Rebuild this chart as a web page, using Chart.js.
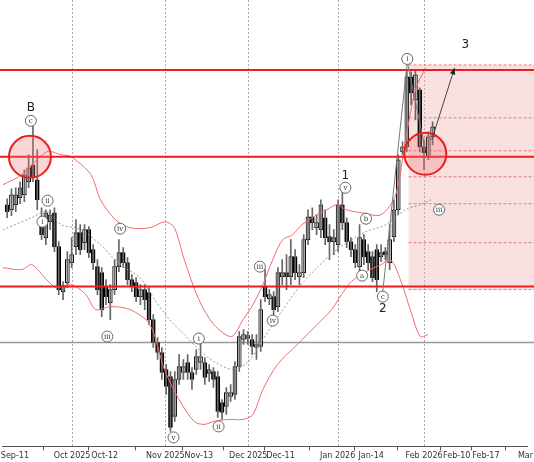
<!DOCTYPE html>
<html><head><meta charset="utf-8">
<script src="https://cdn.jsdelivr.net/npm/chart.js@4.4.1/dist/chart.umd.min.js"></script>
<style>html,body{margin:0;background:#fff}#wrap{width:534px;height:462px}</style>
</head><body><div id="wrap"><canvas id="c"></canvas></div>
<script>
// daily candles (index = trading day)
const opens  = [295,290,295,302,305,318,335,320,283,262,278,287,253,208,217,237,253,267,257,270,250,233,227,213,197,210,233,247,237,220,217,203,210,207,180,157,147,130,123,83,120,127,137,127,130,137,137,126,128,123,97,93,103,105,133,160,161,160,152,153,213,201,203,193,223,227,223,243,223,227,260,283,272,270,282,263,258,255,295,277,258,250,233,260,248,243,250,243,248,237,263,290,348,353,423,400,410,353,343,363];
const closes = [288,305,305,312,325,332,322,300,265,287,285,253,210,214,240,245,267,250,270,247,237,210,190,203,210,233,247,237,220,213,203,210,200,180,157,147,127,113,72,120,133,133,127,120,143,143,122,130,120,88,87,107,107,133,163,165,164,153,155,190,203,205,190,227,227,223,243,227,227,260,283,277,277,295,262,258,262,295,277,258,250,237,262,243,237,222,220,247,245,260,290,340,353,423,407,425,353,347,363,373];
const highs  = [301,311,312,318,330,345,382,350,292,290,290,292,258,218,248,262,280,275,275,273,255,240,232,220,215,240,260,252,242,225,222,215,215,212,185,162,152,135,128,128,145,140,145,132,150,160,142,135,132,128,100,112,115,138,168,170,168,165,165,200,230,210,208,232,240,245,260,250,235,265,290,292,285,300,290,275,270,300,310,282,262,255,275,265,255,248,255,255,252,275,300,345,358,430,428,430,412,360,368,378];
const lows   = [282,284,288,296,298,312,318,290,260,255,270,248,205,200,212,232,245,245,250,242,230,205,183,195,180,205,228,232,215,208,198,195,190,175,152,140,120,105,68,78,115,120,120,110,125,130,115,118,112,82,80,85,98,100,128,155,155,145,140,148,198,195,182,188,215,210,215,220,215,222,255,270,265,262,255,240,245,248,270,252,243,232,225,235,230,218,208,238,240,230,258,285,345,348,395,380,348,330,340,355];

// bollinger bands (day index, price)
const upperX = [-1,3.4,9.2,12.6,14.9,19.5,21.7,25.2,28.6,33.2,36.8,38.9,41.2,44.6,48.1,52.2,54.9,57.2,59.5,61.8,64.1,66.4,68.6,72.1,74.4,76.7,78.9,82.4,87,90.4,92.7,95,97.3];
const upperY = [315,325,348,345,343,325,300,280,272,272,278,272,240,200,175,163,180,195,215,240,260,265,275,285,290,295,290,287,285,305,360,410,432];
const lowerX = [-1,3.4,5.7,9.2,11.4,14.9,18.3,20.6,24,28.6,33.2,36.6,40,43.5,45.8,48.1,51.5,54.9,57.2,59.5,62.9,67.5,72.1,75.5,77.8,80.1,83.5,87,89.2,91.5,93.8,96.1,97.9];
const lowerY = [232,230,235,220,212,215,205,190,193,190,175,130,100,78,75,78,80,80,85,110,135,155,175,190,205,218,228,235,240,220,190,163,165];
const midX = [-1,5.7,9.2,12.6,17.2,21.7,26.3,30.9,34.3,37.8,41.2,44.6,48.1,52.6,56.1,59.5,62.9,67.5,72.1,76.7,80.1,83.5,88.1,92.7,96.1,98.6];
const midY = [270,282,288,275,270,255,235,222,200,180,165,150,138,130,138,160,182,210,232,250,260,268,275,290,295,300];

const tickPos = [1.8,15.1,22.7,36.8,44.6,56.1,63.6,76.9,84.7,97,104.6,111.4,120.6];
const tickLabels = ['Sep-11','Oct 2025','Oct-12','Nov 2025','Nov-13','Dec 2025','Dec-11','Jan 2026','Jan-14','Feb 2026','Feb-10','Feb-17','Mar'];
const monthTicks = [15.1,36.8,56.1,76.9,97];

const levels = [430,343,213];
const grayLevel = 157;
const zoneStart = 93.4, zoneTop = 435, zoneBottom = 210;
const zoneLines = [435,382,349,323,296,257,210];

// wave labels: index, price, text, circled?
const waveX = [5.5,5.5,9.4,8.2,26.3,23.3,38.7,44.6,49.2,58.8,61.8,78.7,78.7,83.5,82.6,87.4,87.4,93.1,106.6,100.5];
const waveY = [392,379,299,278,271,163,62,161,73,233,179,324,312,281,224,203,191,441,455,290];
const waveT = ['B','c','ii','i','iv','iii','v','i','ii','iii','iv','1','v','b','a','c','2','i','3','iii'];
const waveC = [0,1,1,1,1,1,1,1,1,1,1,0,1,1,1,1,0,1,0,1];

const ringX = [5.3,97.3], ringY = [343,346];
const zigX = [87.4,93.1,97.3], zigY = [208,438,350];
const arrowX = [98.8,104.1], arrowY = [360,432];

const idx = opens.map((_, i) => i);

const overlay = {
  id: 'overlay',
  beforeDatasetsDraw(ch) {
    const {ctx, chartArea: a, scales: {x, y}} = ch;
    const W = ch.width;
    ctx.save();
    // month grid
    ctx.strokeStyle = '#aaa'; ctx.lineWidth = 1; ctx.setLineDash([2,2]);
    monthTicks.forEach(m => { const px = Math.round(x.getPixelForValue(m)) + .5;
      ctx.beginPath(); ctx.moveTo(px, a.top); ctx.lineTo(px, a.bottom); ctx.stroke(); });
    // zone
    const zx = x.getPixelForValue(zoneStart);
    ctx.setLineDash([]);
    ctx.fillStyle = 'rgba(240,170,170,0.35)';
    ctx.fillRect(zx, y.getPixelForValue(zoneTop), W - zx, y.getPixelForValue(zoneBottom) - y.getPixelForValue(zoneTop));
    ctx.strokeStyle = 'rgba(230,80,80,0.7)'; ctx.setLineDash([3,2]);
    zoneLines.forEach(v => { const py = y.getPixelForValue(v);
      ctx.beginPath(); ctx.moveTo(zx, py); ctx.lineTo(W, py); ctx.stroke(); });
    ctx.setLineDash([]);
    // gray level
    ctx.strokeStyle = '#999'; ctx.lineWidth = 1.5;
    let py = y.getPixelForValue(grayLevel);
    ctx.beginPath(); ctx.moveTo(0, py); ctx.lineTo(W, py); ctx.stroke();
    ctx.restore();
  },
  afterDatasetsDraw(ch) {
    const {ctx, chartArea: a, scales: {x, y}} = ch;
    const W = ch.width;
    ctx.save();
    ctx.strokeStyle = '#ee1c1c'; ctx.lineWidth = 2;
    levels.forEach(v => { const py = y.getPixelForValue(v);
      ctx.beginPath(); ctx.moveTo(0, py); ctx.lineTo(W, py); ctx.stroke(); });
    ringX.forEach((rx, i) => {
      ctx.beginPath(); ctx.arc(x.getPixelForValue(rx), y.getPixelForValue(ringY[i]), 21, 0, Math.PI*2);
      ctx.fillStyle = 'rgba(240,120,120,0.3)'; ctx.fill(); ctx.stroke();
    });
    // zigzag
    ctx.strokeStyle = '#777'; ctx.lineWidth = 1;
    ctx.beginPath();
    zigX.forEach((zx, i) => { const px = x.getPixelForValue(zx), pyy = y.getPixelForValue(zigY[i]);
      i ? ctx.lineTo(px, pyy) : ctx.moveTo(px, pyy); });
    ctx.stroke();
    // arrow
    const x1 = x.getPixelForValue(arrowX[0]), y1 = y.getPixelForValue(arrowY[0]);
    const x2 = x.getPixelForValue(arrowX[1]), y2 = y.getPixelForValue(arrowY[1]);
    ctx.strokeStyle = '#444'; ctx.beginPath(); ctx.moveTo(x1, y1); ctx.lineTo(x2, y2); ctx.stroke();
    const ang = Math.atan2(y2 - y1, x2 - x1);
    ctx.fillStyle = '#222'; ctx.beginPath(); ctx.moveTo(x2, y2);
    ctx.lineTo(x2 - 7*Math.cos(ang - .4), y2 - 7*Math.sin(ang - .4));
    ctx.lineTo(x2 - 7*Math.cos(ang + .4), y2 - 7*Math.sin(ang + .4));
    ctx.fill();
    // wave labels
    ctx.textAlign = 'center'; ctx.textBaseline = 'middle';
    waveT.forEach((t, i) => {
      const px = x.getPixelForValue(waveX[i]), pyy = y.getPixelForValue(waveY[i]);
      if (waveC[i]) {
        ctx.beginPath(); ctx.arc(px, pyy, 5.5, 0, Math.PI*2);
        ctx.fillStyle = '#fff'; ctx.fill(); ctx.strokeStyle = '#666'; ctx.lineWidth = 1; ctx.stroke();
        ctx.fillStyle = '#333'; ctx.font = '7px "DejaVu Serif"'; ctx.fillText(t, px, pyy + .5);
      } else {
        ctx.fillStyle = '#222'; ctx.font = '12px "DejaVu Sans"'; ctx.fillText(t, px, pyy);
      }
    });
    ctx.restore();
  }
};

new Chart(document.getElementById('c'), {
  type: 'bar',
  data: { datasets: [
    { type:'line', data: upperX.map((v,i)=>({x:v,y:upperY[i]})), borderColor:'#f26b6b', borderWidth:1, pointRadius:0, tension:.3 },
    { type:'line', data: lowerX.map((v,i)=>({x:v,y:lowerY[i]})), borderColor:'#f26b6b', borderWidth:1, pointRadius:0, tension:.3 },
    { type:'line', data: midX.map((v,i)=>({x:v,y:midY[i]})), borderColor:'#999', borderWidth:1, borderDash:[2,2], pointRadius:0, tension:.3 },
    { data: idx.map(i => ({x:i, y:[lows[i], highs[i]]})), backgroundColor:'#666', barThickness:1, grouped:false },
    { data: idx.map(i => ({x:i, y:[opens[i], closes[i]]})),
      backgroundColor: idx.map(i => closes[i] >= opens[i] ? '#fff' : '#000'),
      borderColor:'#000', borderWidth:1, borderSkipped:false, barThickness:4, grouped:false }
  ]},
  options: {
    animation:false, responsive:true, maintainAspectRatio:false,
    layout:{padding:{left:0, right:-8, top:0, bottom:0}},
    plugins:{legend:{display:false}, tooltip:{enabled:false}},
    scales:{
      x:{ type:'linear', min:-1.14, max:121, offset:false,
          afterBuildTicks: s => { s.ticks = tickPos.map(v => ({value:v})); },
          ticks:{ autoSkip:false, maxRotation:0, font:{size:8, family:'"DejaVu Sans"'}, color:'#333', padding:1,
                  callback:(v, i) => tickLabels[i] },
          grid:{ drawOnChartArea:false, tickLength:4, color:'#555' }, border:{color:'#555'} },
      y:{ display:false, min:53, max:500 }
    }
  },
  plugins:[overlay]
});
</script></body></html>
